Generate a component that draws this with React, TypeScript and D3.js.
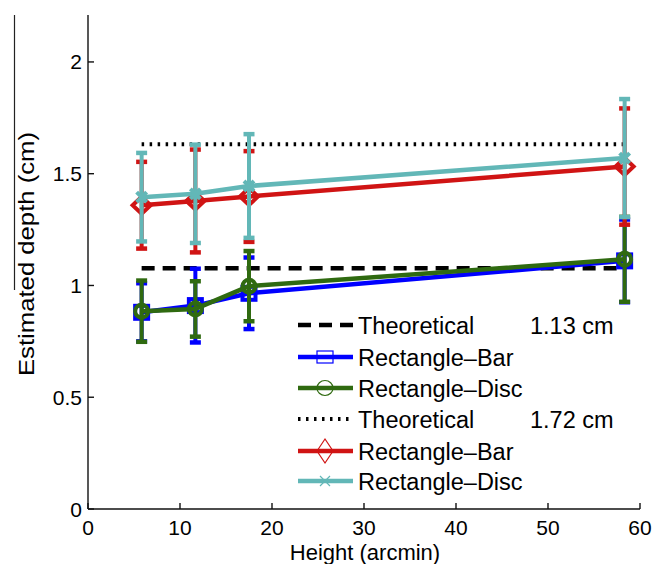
import React from "react";
import * as d3 from "d3";

// ---- data ----
const heights = [5.83, 11.67, 17.5, 58.33];

const barSmallMean = [0.88, 0.91, 0.965, 1.11];
const barSmallErr = [0.13, 0.165, 0.16, 0.185];
const discSmallMean = [0.885, 0.895, 0.997, 1.117];
const discSmallErr = [0.137, 0.124, 0.157, 0.19];

const barLargeMean = [1.359, 1.378, 1.398, 1.532];
const barLargeErr = [0.194, 0.23, 0.203, 0.26];
const discLargeMean = [1.395, 1.41, 1.445, 1.57];
const discLargeErr = [0.198, 0.22, 0.232, 0.264];

const theoreticalSmall = 1.077;
const theoreticalLarge = 1.632;

const xTicks = [0, 10, 20, 30, 40, 50, 60];
const yTicks = [0, 0.5, 1, 1.5, 2];
const yTickLabels = ["0", "0.5", "1", "1.5", "2"];

const legendLabels = [
  "Theoretical",
  "Rectangle\u2013Bar",
  "Rectangle\u2013Disc",
  "Theoretical",
  "Rectangle\u2013Bar",
  "Rectangle\u2013Disc",
];
const legendValues = ["1.13 cm", "", "", "1.72 cm", "", ""];

const BLUE = "#0000ff";
const GREEN = "#2f6a10";
const RED = "#d01414";
const CYAN = "#62b7b7";
const FONT = "'Liberation Sans', Arial, Helvetica, sans-serif";

const x = d3.scaleLinear().domain([0, 60]).range([88, 640]);
const y = d3.scaleLinear().domain([0, 2.21]).range([509, 15]);

type Marker = "square" | "circle" | "diamond" | "x";

function MarkerShape({ kind, cx, cy, color, sw, legend }: { kind: Marker; cx: number; cy: number; color: string; sw: number; legend?: boolean }) {
  if (kind === "square") {
    const w = legend ? 16 : 13;
    const h = legend ? 12 : 13;
    return <rect x={cx - w / 2} y={cy - h / 2} width={w} height={h} fill="none" stroke={color} strokeWidth={sw} />;
  }
  if (kind === "circle") {
    const r = legend ? 8 : 6.5;
    return <ellipse cx={cx} cy={cy} rx={r} ry={legend ? 7.5 : r} fill="none" stroke={color} strokeWidth={sw} />;
  }
  if (kind === "diamond") {
    const hw = legend ? 8 : 9;
    const hh = legend ? 12 : 8.5;
    return <path d={`M${cx - hw},${cy}L${cx},${cy - hh}L${cx + hw},${cy}L${cx},${cy + hh}Z`} fill="none" stroke={color} strokeWidth={sw} />;
  }
  const a = 5;
  return <path d={`M${cx - a},${cy - a}L${cx + a},${cy + a}M${cx - a},${cy + a}L${cx + a},${cy - a}`} stroke={color} strokeWidth={sw} fill="none" />;
}

function Series({ mean, err, color, marker }: { mean: number[]; err: number[]; color: string; marker: Marker }) {
  const line = d3
    .line<number>()
    .x((_, i) => x(heights[i]))
    .y((d) => y(d));
  return (
    <g>
      {mean.map((m, i) => {
        const cx = x(heights[i]);
        const top = y(m + err[i]);
        const bot = y(m - err[i]);
        return (
          <g key={i}>
            <line x1={cx} x2={cx} y1={top} y2={bot} stroke={color} strokeWidth={4} />
            <line x1={cx - 5.5} x2={cx + 5.5} y1={top} y2={top} stroke={color} strokeWidth={4.5} />
            <line x1={cx - 5.5} x2={cx + 5.5} y1={bot} y2={bot} stroke={color} strokeWidth={4.5} />
          </g>
        );
      })}
      <path d={line(mean) || ""} fill="none" stroke={color} strokeWidth={4.5} strokeLinejoin="round" />
      {mean.map((m, i) => (
        <MarkerShape key={"m" + i} kind={marker} cx={x(heights[i])} cy={y(m)} color={color} sw={4} />
      ))}
    </g>
  );
}

export default function App() {
  const x0 = x(heights[0]);
  const x1 = x(heights[heights.length - 1]);
  const legendRowsY = [325, 357, 388, 419, 451, 481];
  const legendStyles: { color: string; dash?: string; marker?: Marker; width: number }[] = [
    { color: "#000", dash: "13,8", width: 4.5 },
    { color: BLUE, marker: "square", width: 4.5 },
    { color: GREEN, marker: "circle", width: 4.5 },
    { color: "#000", dash: "2.5,5.5", width: 4 },
    { color: RED, marker: "diamond", width: 4.5 },
    { color: CYAN, marker: "x", width: 4.5 },
  ];
  return (
    <svg width={666} height={564} style={{ position: "absolute", left: 0, top: 0, background: "#fff" }} fontFamily={FONT}>
      <rect width={666} height={564} fill="#fff" />
      {/* stray vertical rule */}
      <line x1={14.5} x2={14.5} y1={15} y2={290} stroke="#222" strokeWidth={1.2} />

      {/* theoretical lines and series */}
      <line x1={x0} x2={x1} y1={y(theoreticalSmall)} y2={y(theoreticalSmall)} stroke="#000" strokeWidth={4.5} strokeDasharray="13,8" />
      <Series mean={barSmallMean} err={barSmallErr} color={BLUE} marker="square" />
      <Series mean={discSmallMean} err={discSmallErr} color={GREEN} marker="circle" />
      <line x1={x0} x2={x1} y1={y(theoreticalLarge)} y2={y(theoreticalLarge)} stroke="#000" strokeWidth={4} strokeDasharray="2.5,5.5" />
      <Series mean={barLargeMean} err={barLargeErr} color={RED} marker="diamond" />
      <Series mean={discLargeMean} err={discLargeErr} color={CYAN} marker="x" />

      {/* axes */}
      <g stroke="#111" strokeWidth={1.4} fill="none">
        <line x1={x(0)} x2={x(0)} y1={y.range()[1]} y2={y(0)} />
        <line x1={x(0)} x2={x(60)} y1={y(0)} y2={y(0)} />
        {xTicks.map((t) => (
          <line key={"xt" + t} x1={x(t)} x2={x(t)} y1={y(0)} y2={y(0) - 6} />
        ))}
        {yTicks.map((t) => (
          <line key={"yt" + t} x1={x(0)} x2={x(0) + 6} y1={y(t)} y2={y(t)} />
        ))}
      </g>
      <g fontSize={21} fill="#000">
        {xTicks.map((t) => (
          <text key={"xl" + t} x={x(t)} y={535} textAnchor="middle">
            {String(t)}
          </text>
        ))}
        {yTicks.map((t, i) => (
          <text key={"yl" + t} x={82} y={y(t) + 7.5} textAnchor="end">
            {yTickLabels[i]}
          </text>
        ))}
      </g>
      <text x={365} y={560} textAnchor="middle" fontSize={22} fill="#000">
        Height (arcmin)
      </text>
      <text transform={`translate(34,254) rotate(-90)`} textAnchor="middle" fontSize={22.5} fill="#000" textLength={244} lengthAdjust="spacingAndGlyphs">
        Estimated depth (cm)
      </text>

      {/* legend */}
      {legendLabels.map((lab, i) => {
        const ly = legendRowsY[i];
        const st = legendStyles[i];
        return (
          <g key={"lg" + i}>
            <line x1={298} x2={353} y1={ly} y2={ly} stroke={st.color} strokeWidth={st.width} strokeDasharray={st.dash} />
            {st.marker && <MarkerShape kind={st.marker} cx={325} cy={ly} color={st.color} sw={1.2} legend />}
            <text x={358} y={ly + 9} fontSize={23.5} fill="#000">
              {lab}
            </text>
            {legendValues[i] && (
              <text x={530} y={ly + 9} fontSize={23.5} fill="#000">
                {legendValues[i]}
              </text>
            )}
          </g>
        );
      })}
    </svg>
  );
}
